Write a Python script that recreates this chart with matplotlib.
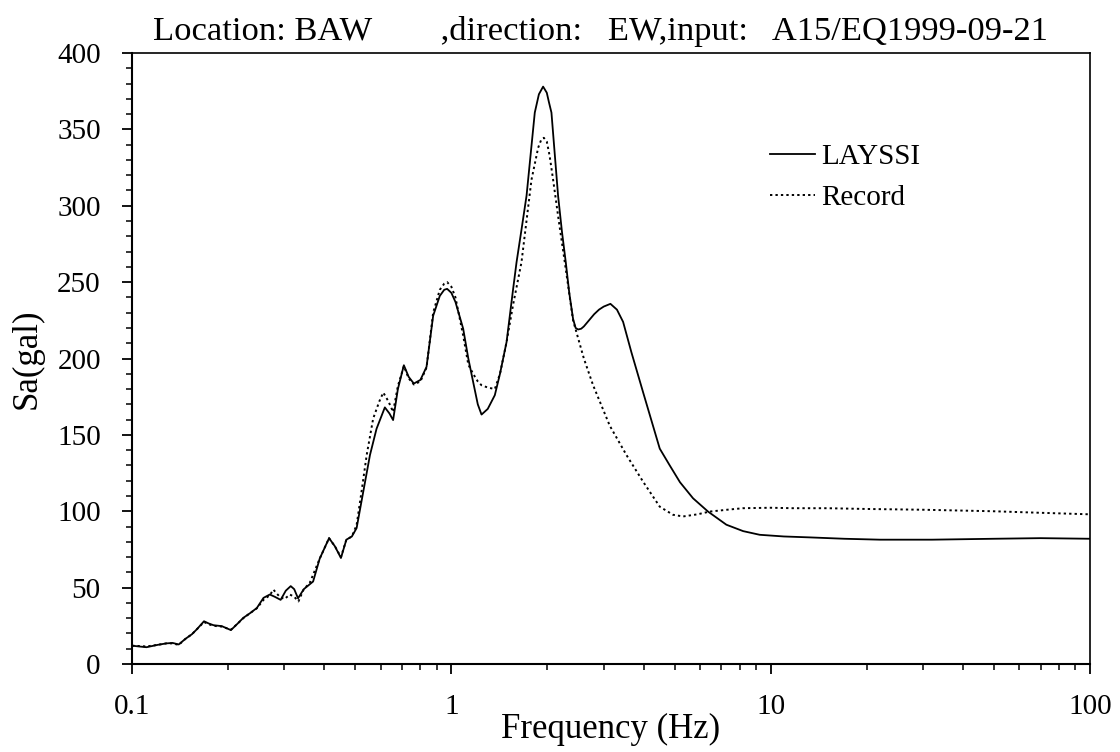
import matplotlib
matplotlib.use("Agg")
import matplotlib.pyplot as plt
from matplotlib.ticker import LogLocator, MultipleLocator, FixedLocator, NullFormatter

plt.rcParams['font.family'] = ['Liberation Serif', 'DejaVu Serif']

# LAYSSI spectrum (frequency in Hz, Sa in gal)
layssi_freq = [0.100, 0.105, 0.111, 0.120, 0.128, 0.134, 0.140, 0.147, 0.154, 0.160,
               0.168, 0.174, 0.180, 0.191, 0.204, 0.213, 0.223, 0.235, 0.246, 0.258,
               0.270, 0.280, 0.292, 0.303, 0.314, 0.322, 0.331, 0.345, 0.369, 0.387,
               0.414, 0.432, 0.451, 0.469, 0.488, 0.505, 0.530, 0.556, 0.583, 0.619,
               0.640, 0.657, 0.680, 0.710, 0.735, 0.763, 0.800, 0.836, 0.877, 0.920,
               0.950, 0.970, 1.000, 1.030, 1.089, 1.130, 1.170, 1.210, 1.243, 1.300,
               1.368, 1.420, 1.489, 1.560, 1.600, 1.660, 1.720, 1.825, 1.880, 1.938,
               1.990, 2.020, 2.058, 2.100, 2.159, 2.220, 2.282, 2.340, 2.405, 2.450,
               2.494, 2.550, 2.600, 2.800, 2.900, 3.000, 3.149, 3.300, 3.450, 3.664,
               3.984, 4.494, 4.830, 5.200, 5.713, 6.366, 7.265, 8.200, 9.240, 11.0,
               13.25, 17.0, 22.0, 32.0, 50.0, 70.0, 100.0]
layssi_sa = [12, 11.5, 11, 12.5, 13.5, 13.8, 12.8, 16.5, 19.5, 23,
             28, 26.5, 25.4, 24.8, 22.2, 26, 30.2, 33.5, 36.7, 43.3,
             45.5, 44, 42, 48, 51, 49, 43, 49, 54, 69,
             82.4, 77, 69.4, 81.4, 83.5, 89, 113, 136.8, 154, 168,
             164, 159.7, 180, 195.6, 188, 183.6, 186, 194.5, 228, 241,
             245, 245.6, 243, 237, 219.5, 200, 184.7, 170, 163.3, 167,
             176, 190, 210.8, 245, 263, 285, 306.7, 361, 373, 378,
             374, 368, 361, 338, 306.5, 283, 263, 243, 226, 220,
             219, 219.5, 221, 229, 232, 234, 235.8, 232, 224, 204,
             178, 141, 130, 119, 108.5, 99.8, 91.2, 87, 84.6, 83.5,
             82.9, 82, 81.4, 81.4, 82, 82.4, 82]

# Recorded spectrum
record_freq = [0.100, 0.105, 0.111, 0.120, 0.128, 0.134, 0.140, 0.147, 0.154, 0.160,
               0.168, 0.174, 0.180, 0.191, 0.204, 0.213, 0.223, 0.235, 0.246, 0.258,
               0.270, 0.277, 0.290, 0.300, 0.312, 0.322, 0.332, 0.345, 0.360, 0.387,
               0.414, 0.432, 0.451, 0.469, 0.488, 0.505, 0.525, 0.543, 0.569, 0.595,
               0.612, 0.635, 0.657, 0.680, 0.710, 0.735, 0.763, 0.800, 0.836, 0.877,
               0.920, 0.950, 0.970, 1.000, 1.030, 1.089, 1.130, 1.170, 1.210, 1.243,
               1.300, 1.368, 1.420, 1.489, 1.560, 1.658, 1.782, 1.870, 1.910, 1.948,
               1.990, 2.030, 2.083, 2.170, 2.266, 2.405, 2.466, 2.600, 2.779, 3.134,
               3.535, 3.984, 4.494, 4.945, 5.315, 5.900, 6.445, 7.300, 8.190, 10.0,
               11.74, 15.0, 20.0, 30.0, 50.0, 70.0, 100.0]
record_sa = [12, 11.8, 11.5, 12.5, 13.5, 13.5, 12.5, 16.5, 19.5, 23,
             27.5, 26, 25, 24.5, 22.5, 26, 30, 33.5, 36.5, 42,
             45, 48.7, 44, 42.5, 45.5, 44, 41, 49, 53, 69,
             82.4, 77, 70, 81.4, 83.5, 91, 115, 136.8, 160.7, 172,
             177.7, 172, 165, 182, 195, 187, 183, 185, 194, 230,
             245, 249, 250, 247, 240, 215, 196, 190, 185, 182.5,
             181, 180, 190, 210.8, 235, 263, 317, 338, 343, 344.5,
             342, 333, 317, 290, 263, 225, 217, 200, 182.5, 156,
             136.8, 119.4, 103, 97.7, 96.6, 98, 99.8, 101, 102, 102.3,
             102, 102, 101.5, 101, 100, 99, 98]

title_text = "Location: BAW        ,direction:   EW,input:   A15/EQ1999-09-21"

fig = plt.figure(figsize=(11.2, 7.52), dpi=100)
ax = fig.add_axes([0.1179, 0.1170, 0.8553, 0.8125])

ax.plot(layssi_freq, layssi_sa, color='black', lw=1.3, label='LAYSSI')
ax.plot(record_freq, record_sa, color='black', lw=1.4, linestyle=(0, (1.2, 1.6)),
        label='Record')

ax.set_xscale('log')
ax.set_xlim(0.1, 100)
ax.set_ylim(0, 400)

ax.xaxis.set_major_locator(FixedLocator([0.1, 1, 10, 100]))
ax.set_xticklabels(['0.1', '1', '10', '100'])
ax.xaxis.set_minor_locator(LogLocator(base=10, subs=range(2, 10)))
ax.xaxis.set_minor_formatter(NullFormatter())
ax.yaxis.set_major_locator(MultipleLocator(50))
ax.yaxis.set_minor_locator(MultipleLocator(10))

ax.tick_params(axis='both', which='major', direction='out', length=7.5, width=1.3,
               labelsize=21, top=False, right=False)
ax.tick_params(axis='both', which='minor', direction='out', length=4, width=1.1,
               top=False, right=False)
ax.tick_params(axis='y', which='major', pad=15)
ax.tick_params(axis='x', which='major', pad=14)

for side in ['left', 'bottom']:
    ax.spines[side].set_linewidth(1.5)
for side in ['top', 'right']:
    ax.spines[side].set_linewidth(1.2)

ax.set_xlabel('Frequency (Hz)', fontsize=25, labelpad=-5)
ax.set_ylabel('Sa(gal)', fontsize=25, labelpad=10)

fig.text(0.137, 1 - 40 / 752, title_text, fontsize=24.8, ha='left', va='baseline')

ax.legend(loc='upper left', bbox_to_anchor=(0.666, 0.851), frameon=False,
          fontsize=21, handlelength=1.55, handletextpad=0.2, labelspacing=0.5,
          borderaxespad=0, borderpad=0)

fig.savefig('out.png', dpi=100)
